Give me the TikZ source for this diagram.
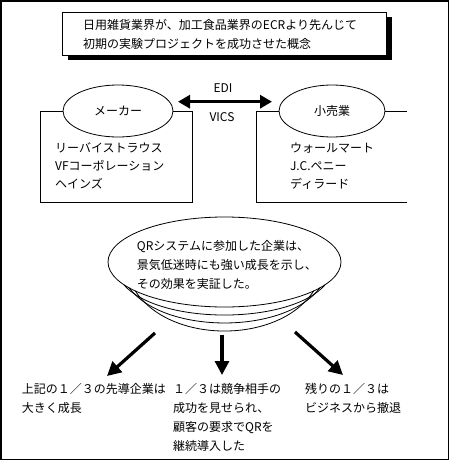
\documentclass[tikz,border=0pt]{standalone}
\usepackage{fontspec}
\setmainfont{Noto Sans CJK JP}
\usetikzlibrary{arrows.meta,shapes.geometric,shadows}
\begin{document}
\begin{tikzpicture}[x=1pt,y=-1pt,
  font=\fontsize{12}{19}\selectfont,
  thin line/.style={line width=0.8pt},
  txt/.style={anchor=base west,inner sep=0pt,align=left},
  oval/.style={draw,ellipse,thin line,inner sep=0pt},
  bigarrow/.style={line width=3.2pt,-{Triangle[length=14pt,width=14pt]}},
  dblarrow/.style={line width=3pt,{Triangle[length=12pt,width=13pt]}-{Triangle[length=12pt,width=13pt]}}
]
\useasboundingbox (0,0) rectangle (450,461);
\draw[line width=1.5pt] (1,1) rectangle (448.5,459.5);

% title box with shadow
\node[draw,thin line,fill=white,minimum width=324pt,minimum height=43pt,inner sep=0pt,
      drop shadow={shadow xshift=5pt,shadow yshift=-5pt,opacity=1,fill=black}]
      (title) at (224.8,33.4) {};
\node[txt] (titletext) at (83,48.6) {日用雑貨業界が、加工食品業界のECRより先んじて\\初期の実験プロジェクトを成功させた概念};

% maker / retail ovals
\node[oval,minimum width=110pt,minimum height=52pt] (mk) at (118,111) {メーカー};
\node[oval,minimum width=106pt,minimum height=52pt] (rt) at (332,111) {小売業};

\draw[thin line] (mk.west) -- (40.7,111) -- (40.7,202) -- (192.7,202) -- (192.7,111) -- (mk.east);
\draw[thin line] (rt.west) -- (256.7,111) -- (256.7,202) -- (407,202);
\draw[thin line] (rt.east) -- (407,111);

\node[txt,font=\fontsize{12}{18}\selectfont] (mklist) at (55,188.6) {リーバイストラウス\\VFコーポレーション\\ヘインズ};
\node[txt,font=\fontsize{12}{18}\selectfont] (rtlist) at (290,188.6) {ウォールマート\\J.C.ペニー\\ディラード};

\coordinate (ea) at (178,101.7);
\coordinate (eb) at (272,101.7);
\draw[dblarrow] (ea) -- (eb);
\node (edi) at (223,88) {EDI};
\node (vics) at (222,117) {VICS};

% bowl
\node[oval,minimum width=233pt,minimum height=90pt] (bowl) at (224.5,262) {};
\node[txt] (bowltext) at (136.7,288.6) {QRシステムに参加した企業は、\\景気低迷時にも強い成長を示し、\\その効果を実証した。};
\draw[thin line] (123.6,284.5) .. controls (158.6,325.2) and (290.4,325.2) .. (325.4,284.5);
\draw[thin line] (129.1,287.8) .. controls (164,334.7) and (285,334.7) .. (319.9,287.8);
\draw[thin line] (135.3,290.9) .. controls (170,344.4) and (279,344.4) .. (313.7,290.9);

% arrows
\coordinate (la) at (155,333);
\coordinate (lb) at (107,376);
\coordinate (ma) at (222,335);
\coordinate (mb) at (222,375);
\coordinate (ra) at (295,332);
\coordinate (rb) at (343,375);
\draw[bigarrow] (la) -- (lb);
\draw[bigarrow] (ma) -- (mb);
\draw[bigarrow] (ra) -- (rb);

\node[txt] (t1) at (21.7,412.6) {上記の１／３の先導企業は\\大きく成長};
\node[txt] (t2) at (173,450.6) {１／３は競争相手の\\成功を見せられ、\\顧客の要求でQRを\\継続導入した};
\node[txt] (t3) at (305,412.6) {残りの１／３は\\ビジネスから撤退};
\end{tikzpicture}
\end{document}
